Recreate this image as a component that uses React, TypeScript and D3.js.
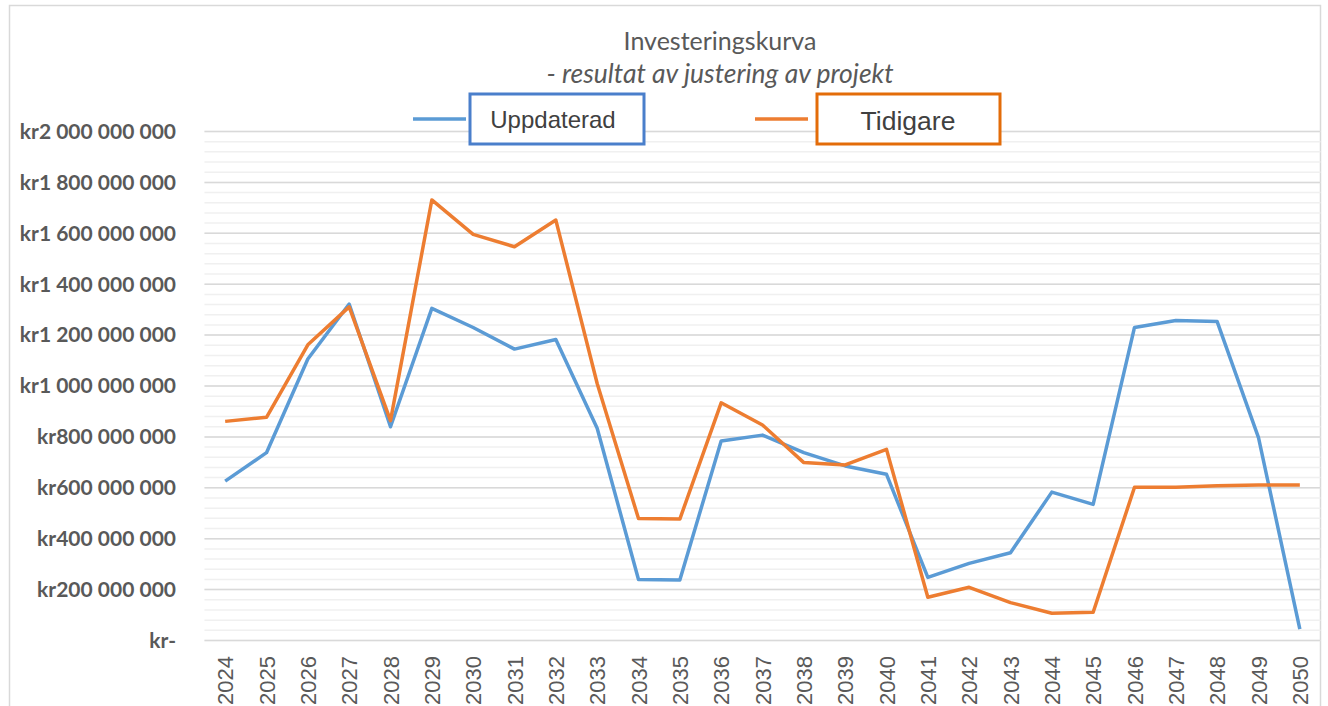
import React from "react";
import * as d3 from "d3";

const years: string[] = d3.range(2024, 2051).map(String);
const uppdaterad: number[] = [
  626, 738, 1106, 1322, 840, 1305, 1230, 1145, 1183, 834, 240, 238, 784, 807, 738, 686, 653, 248, 303, 345, 583, 535, 1230, 1257, 1253, 797, 45,
].map((v) => v * 1e6);
const tidigare: number[] = [
  861, 877, 1162, 1311, 864, 1731, 1596, 1547, 1652, 1010, 479, 477, 934, 847, 699, 690, 751, 170, 209, 149, 107, 111, 602, 602, 608, 611, 611,
].map((v) => v * 1e6);
const yTicks: number[] = [0, 200, 400, 600, 800, 1000, 1200, 1400, 1600, 1800, 2000].map((v) => v * 1e6);
const minorTicks: number[] = d3.range(0, 2001, 40).map((v) => v * 1e6);

const W = 1328;
const H = 706;
const left = 204.5;
const right = 1320.5;
const top = 131.5;
const bottom = 640.5;

function fmt(v: number): string {
  if (v === 0) return "kr-";
  const s = Math.round(v).toString().replace(/\B(?=(\d{3})+(?!\d))/g, " ");
  return "kr" + s;
}

export default function App() {
  const x = d3.scaleBand<string>().domain(years).range([left, right]);
  const y = d3.scaleLinear().domain([0, 2000e6]).range([bottom, top]);
  const cx = (d: string) => (x(d) as number) + x.bandwidth() / 2;
  const line = d3
    .line<number>()
    .x((_, i) => cx(years[i]))
    .y((d) => y(d));

  const grey = "#595959";
  return (
    <svg
      width={W}
      height={H}
      style={{ position: "absolute", left: 0, top: 0, background: "#fff" }}
      fontFamily="Lato, 'Open Sans', sans-serif"
    >
      <rect x={9.5} y={5.5} width={1311} height={720} fill="#fff" stroke="#d9d9d9" strokeWidth={1.5} />
      {minorTicks.map((t) => (
        <line key={"m" + t} x1={left} x2={right} y1={y(t)} y2={y(t)} stroke="#f0f0f0" strokeWidth={1.5} />
      ))}
      {yTicks.map((t) => (
        <line key={"g" + t} x1={left} x2={right} y1={y(t)} y2={y(t)} stroke="#d9d9d9" strokeWidth={1.5} />
      ))}
      {yTicks.map((t) => (
        <text
          key={"l" + t}
          x={176}
          y={y(t)}
          dy="0.35em"
          textAnchor="end"
          fontSize={21}
          fontWeight="bold"
          fill={grey}
        >
          {fmt(t)}
        </text>
      ))}
      {years.map((yr) => (
        <text
          key={yr}
          transform={`translate(${cx(yr) + 8},${656}) rotate(-90)`}
          textAnchor="end"
          fontSize={22}
          fill={grey}
          fontFamily="'Liberation Sans', Arial, sans-serif"
        >
          {yr}
        </text>
      ))}
      <path d={line(uppdaterad) || ""} fill="none" stroke="#5b9bd5" strokeWidth={3.5} strokeLinejoin="round" />
      <path d={line(tidigare) || ""} fill="none" stroke="#ed7d31" strokeWidth={3.5} strokeLinejoin="round" />

      <text x={720} y={50} textAnchor="middle" fontSize={25} fill={grey}>
        Investeringskurva
      </text>
      <text x={720} y={83} textAnchor="middle" fontSize={26.5} fontStyle="italic" fill={grey}>
        - resultat av justering av projekt
      </text>

      <line x1={413} x2={466} y1={119} y2={119} stroke="#5b9bd5" strokeWidth={3.5} />
      <rect x={470} y={94} width={174} height={50} fill="#fff" stroke="#4a7fcb" strokeWidth={3} />
      <text x={553} y={128} textAnchor="middle" fontSize={24} fill="#404040" fontFamily="'Liberation Sans', Arial, sans-serif">
        Uppdaterad
      </text>
      <line x1={755} x2={808} y1={119} y2={119} stroke="#ed7d31" strokeWidth={3.5} />
      <rect x={817} y={94} width={183} height={50} fill="#fff" stroke="#e36c09" strokeWidth={3} />
      <text x={908} y={130} textAnchor="middle" fontSize={26.5} fill="#404040" fontFamily="'Liberation Sans', Arial, sans-serif">
        Tidigare
      </text>
    </svg>
  );
}
